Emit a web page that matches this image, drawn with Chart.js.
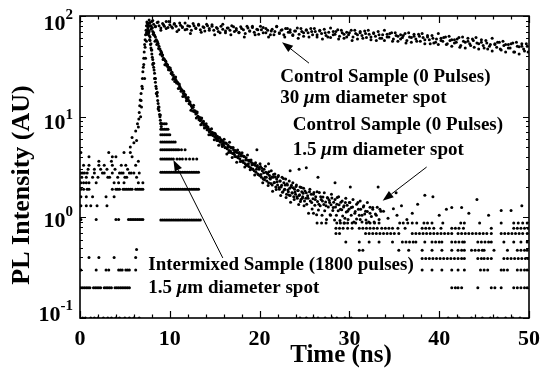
<!DOCTYPE html>
<html><head><meta charset="utf-8">
<script src="https://cdn.jsdelivr.net/npm/chart.js@4/dist/chart.umd.min.js"></script>
<style>html,body{margin:0;padding:0;background:#fff}canvas{display:block}</style>
</head><body>
<canvas id="c" width="548" height="381"></canvas>
<script>
// ---------- data (time in ns, PL intensity in AU) ----------
const xTickValues = [0, 10, 20, 30, 40, 50];
const yTickValues = [0.1, 1, 10, 100];
const yTickExponents = ['-1', '0', '1', '2'];

// Control sample, 30 um spot
const controlWideSpot = [[7.2,24],[7.3,38],[7.4,56],[7.5,70],[7.6,84],[7.7,91],[7.8,86],[7.9,80],[8.0,88],[8.2,83],[8.4,78],[8.6,86],[8.8,80],[9.0,76],[9.2,84],[9.4,79],[9.6,88],[9.8,77],[10.0,82],[10.3,76],[10.5,84],[10.7,79],[11.0,73],[11.2,81],[11.4,77],[11.7,85],[11.9,74],[12.2,79],[12.4,72],[12.7,80],[12.9,76],[13.2,83],[13.4,73],[13.7,78],[13.9,71],[14.2,80],[14.4,75],[14.7,82],[14.9,72],[15.2,77],[15.4,70],[15.7,79],[15.9,74],[16.2,68],[16.4,76],[16.7,72],[16.9,80],[17.2,70],[17.4,75],[17.7,69],[17.9,78],[18.2,73],[18.4,67],[18.7,76],[18.9,71],[19.2,79],[19.4,69],[19.7,74],[19.9,66],[20.2,73],[20.4,77],[20.7,68],[20.9,72],[21.2,65],[21.4,74],[21.7,70],[21.9,78],[22.2,67],[22.4,72],[22.7,65],[22.9,75],[23.2,69],[23.4,73],[23.7,64],[23.9,71],[24.2,76],[24.4,66],[24.7,70],[24.9,63],[25.2,72],[25.4,68],[25.7,75],[25.9,65],[26.2,70],[26.4,62],[26.7,71],[26.9,67],[27.2,74],[27.4,64],[27.7,69],[27.9,61],[28.2,70],[28.4,66],[28.7,73],[28.9,63],[29.2,68],[29.4,60],[29.7,69],[29.9,65],[30.2,72],[30.4,62],[30.7,67],[30.9,59],[31.2,68],[31.4,64],[31.7,71],[31.9,61],[32.2,66],[32.4,58],[32.7,67],[32.9,63],[33.2,70],[33.4,60],[33.7,65],[33.9,57],[34.2,66],[34.4,62],[34.7,68],[34.9,59],[35.2,64],[35.4,56],[35.7,65],[35.9,61],[36.2,67],[36.4,57],[36.7,62],[36.9,55],[37.2,63],[37.4,59],[37.7,66],[37.9,56],[38.2,61],[38.4,53],[38.7,62],[38.9,58],[39.2,64],[39.4,54],[39.7,59],[39.9,52],[40.2,60],[40.4,56],[40.7,62],[40.9,53],[41.2,57],[41.4,50],[41.7,58],[41.9,55],[42.2,61],[42.4,51],[42.7,56],[42.9,48],[43.2,56],[43.4,53],[43.7,59],[43.9,49],[44.2,54],[44.4,47],[44.7,55],[44.9,51],[45.2,57],[45.4,47],[45.7,52],[45.9,45],[46.2,53],[46.4,49],[46.7,55],[46.9,46],[47.2,51],[47.4,44],[47.7,52],[47.9,48],[48.2,54],[48.4,44],[48.7,50],[48.9,42],[49.2,50],[49.4,47],[49.7,53],[49.9,44]];
const controlWideSpotMore = [[8.1,90],[8.4,79],[8.7,87],[9.0,72],[9.3,82],[9.6,75],[9.9,88],[10.2,78],[10.5,83],[10.8,70],[11.1,85],[11.4,78],[11.7,73],[12.0,80],[12.3,67],[12.6,84],[12.9,75],[13.2,81],[13.5,69],[13.8,77],[14.1,83],[14.4,72],[14.7,79],[15.0,65],[15.3,75],[15.6,68],[15.9,83],[16.2,71],[16.5,76],[16.8,65],[17.1,78],[17.4,72],[17.7,68],[18.0,75],[18.3,62],[18.6,79],[18.9,71],[19.2,77],[19.5,65],[19.8,73],[20.1,79],[20.4,68],[20.7,75],[21.0,62],[21.3,71],[21.6,65],[21.9,79],[22.2,68],[22.5,73],[22.8,62],[23.1,75],[23.4,69],[23.7,65],[24.0,71],[24.3,60],[24.6,75],[24.9,68],[25.2,73],[25.5,62],[25.8,70],[26.1,75],[26.4,65],[26.7,72],[27.0,59],[27.3,68],[27.6,62],[27.9,76],[28.2,65],[28.5,70],[28.8,59],[29.1,72],[29.4,66],[29.7,62],[30.0,68],[30.3,57],[30.6,72],[30.9,65],[31.2,70],[31.5,60],[31.8,67],[32.1,72],[32.4,62],[32.7,68],[33.0,57],[33.3,65],[33.6,60],[33.9,72],[34.2,62],[34.5,67],[34.8,56],[35.1,68],[35.4,63],[35.7,59],[36.0,64],[36.3,54],[36.6,68],[36.9,61],[37.2,66],[37.5,56],[37.8,63],[38.1,67],[38.4,58],[38.7,64],[39.0,53],[39.3,60],[39.6,55],[39.9,67],[40.2,57],[40.5,61],[40.8,52],[41.1,63],[41.4,58],[41.7,54],[42.0,59],[42.3,49],[42.6,62],[42.9,55],[43.2,60],[43.5,51],[43.8,57],[44.1,61],[44.4,53],[44.7,58],[45.0,48],[45.3,54],[45.6,50],[45.9,60],[46.2,52],[46.5,55],[46.8,47],[47.1,56],[47.4,52],[47.7,48],[48.0,53],[48.3,44],[48.6,55],[48.9,49.5],[49.2,53],[49.5,45],[49.8,50]];

// Control sample, 1.5 um spot: decay
const controlSmallSpot = [[7.5,66],[7.6,78],[7.7,85],[7.8,80],[7.9,74],[8.0,77],[8.1,70],[8.2,68],[8.3,64],[8.4,62],[8.5,58],[8.6,56],[8.7,53],[8.8,50],[8.9,47],[9.0,45],[9.1,43],[9.2,41],[9.3,38],[9.4,37],[9.5,36],[9.6,34],[9.7,33],[9.8,31],[9.9,31],[10.0,29],[10.1,29],[10.2,27],[10.3,26],[10.4,26],[10.5,24],[10.6,24],[10.7,23],[10.8,22],[10.9,21.5],[11.0,21],[11.1,20],[11.2,19],[11.3,18.5],[11.4,18],[11.5,17],[11.6,17],[11.7,16],[11.8,15.5],[11.9,15],[12.0,14.5],[12.1,14.5],[12.2,13.5],[12.3,13.2],[12.4,12.8],[12.5,12.2],[12.6,12.4],[12.7,11.5],[12.8,11.2],[12.9,10.6],[13.0,10.8],[13.1,10.0],[13.2,9.8],[13.3,9.6],[13.4,9.1],[13.5,9.3],[13.6,8.6],[13.7,8.8],[13.8,8.2],[13.9,8.4],[14.0,7.8],[14.1,8.1],[14.2,7.4],[14.3,7.6],[14.4,7.1],[14.5,7.4],[14.6,6.8],[14.7,7.0],[14.8,6.5],[14.9,6.9],[15.0,6.3],[15.1,6.6],[15.2,6.0],[15.3,6.4],[15.4,5.8],[15.5,6.1],[15.6,5.6],[15.7,5.9],[15.8,5.3],[15.9,5.7],[16.0,5.2],[16.1,5.5],[16.2,4.9],[16.3,5.4],[16.4,4.8],[16.5,5.2],[16.6,4.6],[16.7,5.0],[16.8,4.4],[16.9,4.9],[17.0,4.3],[17.1,4.7],[17.2,4.2],[17.3,4.6],[17.4,4.0],[17.5,4.4],[17.6,3.9],[17.7,4.3],[17.8,3.8],[17.9,4.2],[18.0,3.6],[18.1,4.1],[18.2,3.5],[18.3,4.0],[18.4,3.4],[18.5,3.9],[18.6,3.3],[18.7,3.7],[18.8,3.2],[18.9,3.6],[19.0,3.1],[19.1,3.5],[19.2,3.0],[19.3,3.4],[19.4,2.9],[19.5,3.3],[19.6,2.8],[19.7,3.2],[19.8,2.7],[19.9,3.1],[20.0,2.6],[20.1,3.2],[20.2,2.5],[20.3,2.9],[20.4,2.4],[20.5,3.0],[20.6,2.5],[20.7,2.8],[20.8,2.3],[20.9,2.7],[21.0,2.2],[21.1,2.6],[21.2,2.4],[21.3,2.9],[21.4,2.1],[21.5,2.5],[21.6,2.2],[21.7,2.7],[21.8,2.0],[21.9,2.4],[22.0,2.1],[22.1,2.6],[22.2,1.9],[22.3,2.3],[22.4,2.0],[22.5,2.5],[22.6,1.8],[22.7,2.2],[22.8,1.9],[22.9,2.4],[23.0,1.7],[23.1,2.1],[23.2,1.8],[23.3,2.3],[23.4,1.65],[23.5,2.0],[23.6,1.75],[23.7,2.2],[23.8,1.6],[23.9,1.9],[24.0,1.7],[24.1,2.1],[24.2,1.55],[24.3,1.85],[24.4,1.65],[24.5,2.0],[24.6,1.5],[24.7,1.8],[24.8,1.6],[24.9,1.95],[25.0,1.45],[25.2,1.75],[25.4,1.55],[25.6,1.9],[25.8,1.4],[26.0,1.7],[26.2,1.5],[26.4,1.8],[26.6,1.35],[26.8,1.6],[27.0,1.45],[27.2,1.75],[27.4,1.3],[27.6,1.55],[27.8,1.4],[28.0,1.7],[28.2,1.25],[28.4,1.5],[28.6,1.35],[28.8,1.6],[29.0,1.2],[29.2,1.45],[29.4,1.3],[29.6,1.55],[29.8,1.15],[30.0,1.4],[30.2,1.25],[30.4,1.5],[30.6,1.1],[30.8,1.35],[31.0,1.2],[31.2,1.45],[31.4,1.05],[31.6,1.3],[31.8,1.15],[32.0,1.4],[32.3,1.1],[32.6,1.25],[33.0,1.05],[33.4,1.2],
[23.4,2.9],[24.4,3.0],[25.2,3.1],[26.5,2.5],[28.4,2.2],[30.1,2.0],[33.2,2.0],[35.2,1.75],[31.2,0.95],[29.5,0.98],[27.9,1.05],[26.0,1.1],[19.7,4.7],[21.0,3.4],
[33.8,1.15],[34.3,0.98],[34.9,1.22],[35.3,1.05],[35.8,1.3],[36.4,0.95],[37.0,1.1],[37.6,1.35],[38.4,1.66],[39.3,1.6],[40.0,1.05],[40.8,1.2],[41.4,1.25],[42.5,1.25],[43.3,1.1],[44.2,1.5],[45.5,1.05],[46.9,1.17],[48.0,1.17],[49.2,1.3]];
const controlSmallSpotMore = [[8.05,76],[8.15,66],[8.25,65],[8.35,56],[8.45,57],[8.55,52],[8.65,54],[8.75,47.5],[8.85,47],[8.95,41.6],[9.05,43.8],[9.15,40],[9.25,36.9],[9.35,37.2],[9.45,32.7],[9.55,35.6],[9.65,32.3],[9.75,32.6],[9.85,29.2],[9.95,29.9],[10.05,30.5],[10.15,26.8],[10.25,27.6],[10.35,23.5],[10.45,24.7],[10.55,22.4],[10.65,24.8],[10.75,21.6],[10.85,22],[10.95,19.1],[11.05,21.1],[11.15,19.3],[11.25,17.9],[11.35,18.4],[11.45,15.9],[11.55,17.9],[11.65,16.1],[11.75,16.5],[11.85,14.4],[11.95,14.9],[12.05,15.5],[12.15,13.4],[12.25,14],[12.35,11.6],[12.45,12.6],[12.55,11.4],[12.65,13],[12.75,11.2],[12.85,11.4],[12.95,9.7],[13.05,11.1],[13.15,10.1],[13.25,9.3],[13.35,9.8],[13.45,8.3],[13.55,9.7],[13.65,8.7],[13.75,9.0],[13.85,7.7],[13.95,8.3],
[14.05,8.5],[14.15,7.4],[14.25,7.9],[14.35,6.6],[14.45,7.25],[14.55,6.6],[14.65,7.6],[14.75,6.6],[14.85,6.85],[14.95,5.9],[15.05,6.8],[15.15,6.2],[15.25,5.8],[15.35,6.15],[15.45,5.2],[15.55,6.2],[15.65,5.6],[15.75,5.87],[15.85,5.06],[15.95,5.45],[16.05,5.97],[16.15,4.94],[16.25,5.47],[16.35,4.26],[16.45,5.0],[16.55,4.41],[16.65,5.56],[16.75,4.56],[16.85,4.9],[16.95,3.94],[17.05,4.94],[17.15,4.41],[17.25,4.02],[17.35,4.48],[17.45,3.53],[17.55,4.67],[17.65,4.05],[17.75,4.41],[17.85,3.58],[17.95,4.06],[18.05,4.39],[18.15,3.65],[18.25,4.05],[18.35,3.16],[18.45,3.72],[18.55,3.29],[18.65,4.16],[18.75,3.41],[18.85,3.68],[18.95,2.97],[19.05,3.72],[19.15,3.32],[19.25,3.02],[19.35,3.36],[19.45,2.64],[19.55,3.48],[19.65,3.01],[19.75,3.28],[19.85,2.66],[19.95,3.01],
[20.05,3.4],[20.15,2.67],[20.25,3.08],[20.35,2.21],[20.45,2.77],[20.55,2.36],[20.65,3.22],[20.75,2.5],[20.85,2.76],[20.95,2.07],[21.05,2.83],[21.15,2.44],[21.25,2.17],[21.35,2.51],[21.45,1.82],[21.55,2.67],[21.65,2.22],[21.75,2.51],[21.85,1.89],[21.95,2.26],[22.05,2.53],[22.15,1.98],[22.25,2.3],[22.35,1.65],[22.45,2.08],[22.55,1.77],[22.65,2.43],[22.75,1.88],[22.85,2.09],[22.95,1.57],[23.05,2.15],[23.15,1.87],[23.25,1.67],[23.35,1.94],[23.45,1.41],[23.55,2.08],[23.65,1.74],[23.75,1.97],[23.85,1.5],[23.95,1.79],
[24.05,2.02],[24.15,1.6],[24.25,1.85],[24.35,1.34],[24.45,1.68],[24.55,1.44],[24.65,1.98],[24.75,1.55],[24.85,1.73],[24.95,1.3],[25.05,1.83],[25.15,1.55],[25.25,1.35],[25.35,1.64],[25.45,1.1],[25.55,1.8],[25.65,1.45],[25.75,1.7],[25.85,1.21],[25.95,1.53],[26.05,1.76],[26.15,1.32],[26.25,1.6],[26.35,1.06],[26.45,1.44],[26.55,1.18],[26.65,1.76],[26.75,1.3],[26.85,1.5],[26.95,1.05],[27.05,1.59],[27.15,1.34],[27.25,1.16],[27.35,1.42],[27.45,0.95],[27.55,1.57],[27.65,1.27],[27.75,1.48],[27.85,1.06],[27.95,1.33],[28.05,1.56],[28.15,1.17],[28.25,1.41],[28.35,0.94],[28.45,1.27],[28.55,1.05],[28.65,1.57],[28.75,1.16],[28.85,1.33],[28.95,0.93],[29.05,1.41],[29.15,1.19],[29.25,1.03],[29.35,1.27],[29.45,0.88],[29.55,1.4],[29.65,1.13],[29.75,1.32],[29.85,0.95],[29.95,1.2],
[30.05,1.4],[30.2,1.05],[30.35,1.27],[30.5,0.9],[30.65,1.14],[30.8,0.96],[30.95,1.4],[31.1,1.05],[31.25,1.2],[31.4,0.9],[31.55,1.27],[31.7,1.08],[31.85,0.94],[32.0,1.14],[32.15,0.9],[32.3,1.26],[32.45,1.02],[32.6,1.2],[32.75,0.9],[32.9,1.08],[33.1,1.26],[33.3,0.95],[33.5,1.15]];

// Control sample, 1.5 um spot: quantized late-time levels
const controlTailLevels = [0.88, 0.78, 0.69, 0.57, 0.47, 0.39, 0.30, 0.20, 0.1];
const controlTailTimes = [
 [26.4,26.9,27.4,28.6,29.0,29.4,29.8,30.3,30.7,31.9,32.3,32.8,33.3,35.6,36.0,36.5,37.0,37.5,38.3,38.7,39.2,40.4,42.4,42.8,44.5,46.9,48.3,48.8,49.3,49.8],
 [28.5,28.9,29.3,29.8,30.3,31.1,31.5,31.9,32.3,32.7,33.1,33.6,34.0,34.4,34.8,35.4,36.2,38.1,38.5,38.9,39.4,40.2,41.4,41.8,42.2,42.7,45.8,48.3,48.7,49.1,49.5,49.9],
 [28.5,28.9,31.8,32.2,32.6,33.0,33.4,33.8,34.2,34.6,35.0,35.5,37.0,37.4,37.8,38.2,38.6,39.0,39.4,39.8,40.2,40.6,41.0,41.4,42.1,42.5,42.9,43.3,43.7,44.1,44.5,44.9,45.3,45.8,46.9,47.3,47.7,48.1,48.5,48.9,49.3,49.8],
 [29.6,31.1,32.2,33.3,34.8,35.9,36.3,36.7,37.1,37.4,38.4,39.2,39.6,40.0,40.3,41.4,41.8,42.2,42.6,42.8,44.3,44.7,45.1,45.5,45.8,47.2,48.3,49.1,49.8],
 [31.1,31.5,35.5,36.6,38.1,39.2,40.3,41.4,42.1,42.5,42.8,43.6,44.0,44.4,44.8,45.0,46.1,47.6,48.7,49.1,49.5,49.8],
 [38.1,38.5,38.9,39.3,39.7,40.1,40.5,40.9,41.3,41.7,42.1,42.5,42.8,44.3,44.7,45.0,45.4,45.8,47.2,47.6,48.0,48.4,48.8,49.2,49.6,49.9],
 [38.1,39.2,40.3,41.4,42.1,42.8,44.6,45.0,45.4,46.9,47.2,47.6,48.7,49.1,49.5,49.8],
 [41.4,41.8,42.1,42.5,44.3,45.8,46.2,46.9,48.3,48.7,49.1,49.5,49.8],
 [24.5,25.2,26.0,26.5,27.3,28.1,28.6,29.5,30.2,41.0,42.2,43.6,44.8,45.7,46.5,47.4,48.2,49.0]
];

// Intermixed sample (1800 pulses), 1.5 um spot: rise, peak and fast decay
const intermixedPeak = [[5.6,5.0],[5.8,6.2],[6.0,5.5],[6.2,7.2],[6.3,5.8],[6.4,8.5],[6.5,7.9],[6.6,11],[6.7,14.6],[6.75,10],[6.8,17],[6.85,12.5],[6.9,20],[6.95,24],[7.0,28],[7.05,31],[7.1,38],[7.15,44],[7.2,52],[7.25,58],[7.3,65],[7.35,72],[7.4,80],[7.45,87],[7.5,84],[7.55,76],[7.6,72],[7.65,68],[7.7,64],[7.75,58],[7.8,57],[7.85,52],[7.9,48],[7.95,46],[8.0,42],[8.05,39],[8.1,37],[8.15,34],[8.2,31],[8.25,29],[8.3,27],[8.35,24],[8.4,22],[8.45,20],[8.5,19],[8.55,17],[8.6,16],[8.65,14.5],[8.7,13.5],[8.75,12.5],[8.8,11.5],[8.85,10.5],[8.9,10],[8.95,9.2],[9.0,8.6],[9.05,8.0],[7.7,70],[7.9,53],[8.1,33],[8.3,24],[8.5,17],[8.7,12],
[6.55,9.5],[6.65,12.8],[6.8,14.5],[6.95,19],[7.1,33],[7.25,49],[7.4,68],[7.6,80],[7.8,62],[8.0,46],[8.2,34],[8.4,24],[8.6,17.5],[8.8,12.5],[8.95,10.4]];

// Intermixed sample: quantized levels right after the pulse
const intermixedTailLevels = [8.5, 7.5, 6.6, 5.6, 4.7, 3.8, 2.8, 1.9, 0.94];
const intermixedTailTimes = [
 [9.0,9.2,9.4,9.6],
 [9.0,9.2,9.4,9.6,9.8],
 [9.0,9.2,9.4,9.6,9.8,10.0],
 [9.0,9.2,9.4,9.6,9.8,10.0,10.2,10.4,10.6],
 [9.0,9.2,9.4,9.6,9.8,10.0,10.2,10.4,10.6,10.8,11.0,11.3,11.7],
 [9.0,9.2,9.4,9.6,9.8,10.0,10.2,10.4,10.8,11.1,11.4,11.8,12.2,12.6,13.0],
 [9.0,9.2,9.4,9.6,9.8,10.0,10.2,10.4,10.6,10.8,11.0,11.2,11.4,11.6,11.8,12.0,12.2,12.4,12.6,12.8,13.0,13.2],
 [9.0,9.2,9.4,9.6,9.8,10.0,10.2,10.4,10.6,10.8,11.0,11.2,11.4,11.6,11.8,12.0,12.2,12.4,12.6,12.8,13.0,13.2],
 [9.0,9.2,9.4,9.6,9.8,10.0,10.2,10.4,10.6,10.8,11.0,11.2,11.4,11.6,11.8,12.0,12.2,12.4,12.6,12.8,13.0,13.2,13.4]
];

// Background before the pulse (quantized levels)
const baselineLevels = [4.4, 4.0, 3.6, 3.3, 3.0, 2.75, 2.5, 2.2, 1.9, 1.6, 1.3, 0.95, 0.48, 0.4, 0.3, 0.2, 0.1];
const baselineTimes = [
 [0.1,3.2,4.9,5.6],
 [1.0,3.6,4.0,5.8],
 [2.1,3.5,6.5],
 [0.4,1.0,2.1,2.7,3.6,4.6,5.1,6.2],
 [0.9,1.6,2.3,3.0,3.9,5.3],
 [0.1,0.3,0.5,0.8,1.6,2.5,2.7,3.6,4.4,4.6,4.8,5.5,5.7,6.0,6.6],
 [0.2,0.7,1.4,2.0,3.1,3.3,4.2,5.0,5.2,6.3],
 [0.1,0.4,0.7,1.0,1.8,3.8,4.3,4.9,6.5,7.0],
 [0.1,0.4,0.8,1.0,3.6,4.0,4.2,4.4,4.8,5.0,5.2,5.4,5.6,5.8,6.2,6.4,6.6,6.8,7.0],
 [0.1,0.7,1.4,2.9,3.8],
 [0.1,0.7,1.2,1.9,3.0],
 [0.1,1.8,4.0,4.3,5.4,5.6,5.8,6.0,6.2,6.4,6.6,6.8,7.0],
 [6.3],
 [1.0,2.1,3.8,6.2],
 [0.1,1.8,2.9,3.2,4.3,4.5,4.7,5.1,5.3,5.5,6.2],
 [0.1,0.3,0.5,0.7,0.9,1.1,1.5,1.7,1.9,2.1,2.3,2.7,2.9,3.1,3.3,3.5,3.9,4.1,4.3,4.5,4.7,4.9,5.1,5.3,5.5],
 [0.3,0.6,1.2,1.6,2.0,2.6,3.1,3.5,4.0,4.4,5.0,5.5,6.0,6.6]
];

// Annotation texts (positions given in data units)
const noteLines = [
 {text: 'Control Sample (0 Pulses)', t: 22.3, v: 24.8},
 {text: '30 μm diameter spot', t: 22.3, v: 15.3},
 {text: 'Control Sample (0 Pulses)', t: 23.7, v: 8.27},
 {text: '1.5 μm diameter spot', t: 23.7, v: 4.67},
 {text: 'Intermixed Sample (1800 pulses)', t: 7.6, v: 0.337},
 {text: '1.5 μm diameter spot', t: 7.6, v: 0.2}
];
const noteArrows = [
 {from: [25.5, 34], to: [22.5, 55]},
 {from: [38.6, 3.16], to: [33.7, 1.46]},
 {from: [15.9, 0.395], to: [10.4, 3.72]}
];

// ---------- build datasets ----------
const pairs = a => a.map(([x, y]) => ({x, y}));
const rows = (levels, times) => levels.flatMap((lv, i) => times[i].map(t => ({x: t, y: lv})));

const SERIF = '"Liberation Serif", "Times New Roman", serif';

const whiteBg = {
  id: 'whiteBg',
  beforeDraw(chart) {
    const c = chart.ctx; c.save(); c.fillStyle = '#fff';
    c.fillRect(0, 0, chart.width, chart.height); c.restore();
  }
};

function drawRich(ctx, text, x, y, size) {
  const parts = text.split('μ');
  parts.forEach((p, i) => {
    ctx.font = 'bold ' + size + 'px ' + SERIF;
    ctx.fillText(p, x, y); x += ctx.measureText(p).width;
    if (i < parts.length - 1) {
      ctx.font = 'italic bold ' + size + 'px ' + SERIF;
      ctx.fillText('μ', x, y); x += ctx.measureText('μ').width;
    }
  });
}

const frameAndNotes = {
  id: 'frameAndNotes',
  afterDraw(chart) {
    const {ctx, chartArea: a, scales: {x, y}} = chart;
    ctx.save();
    ctx.strokeStyle = '#000'; ctx.fillStyle = '#000';
    ctx.lineWidth = 1.6;
    ctx.strokeRect(a.left, a.top, a.right - a.left, a.bottom - a.top);
    ctx.lineWidth = 1.2;
    ctx.beginPath();
    for (let t = x.min; t <= x.max + 1e-9; t += 2) {
      const px = Math.round(x.getPixelForValue(t)) + 0.5;
      const len = (Math.abs(t % 10) < 1e-9) ? 7 : 3.5;
      ctx.moveTo(px, a.bottom); ctx.lineTo(px, a.bottom - len);
      ctx.moveTo(px, a.top); ctx.lineTo(px, a.top + len);
    }
    for (let d = -1; d < 2; d++) {
      for (let m = 1; m <= 10; m++) {
        const v = m * Math.pow(10, d);
        const py = Math.round(y.getPixelForValue(v)) + 0.5;
        const len = (m === 1 || m === 10) ? 6 : 3;
        ctx.moveTo(a.left, py); ctx.lineTo(a.left + len, py);
        ctx.moveTo(a.right, py); ctx.lineTo(a.right - len, py);
      }
    }
    ctx.stroke();

    // y tick labels 10^n
    const shifts = [-3, 4, 7, 8];
    ctx.textBaseline = 'middle'; ctx.textAlign = 'left';
    yTickValues.forEach((v, i) => {
      const py = y.getPixelForValue(v) + shifts[i];
      ctx.font = 'bold 22px ' + SERIF;
      const bw = ctx.measureText('10').width;
      ctx.font = 'bold 15px ' + SERIF;
      const ew = ctx.measureText(yTickExponents[i]).width;
      const left = 73 - bw - ew;
      ctx.font = 'bold 22px ' + SERIF;
      ctx.fillText('10', left, py);
      ctx.font = 'bold 15px ' + SERIF;
      ctx.fillText(yTickExponents[i], left + bw, py - 9);
    });

    // axis titles
    ctx.font = 'bold 26px ' + SERIF;
    ctx.textAlign = 'center'; ctx.textBaseline = 'middle';
    ctx.save(); ctx.translate(22, 185); ctx.rotate(-Math.PI / 2);
    ctx.fillText('PL Intensity (AU)', 0, 0); ctx.restore();
    ctx.font = 'bold 25px ' + SERIF;
    ctx.fillText('Time (ns)', 341, 356);

    // notes
    ctx.textAlign = 'left'; ctx.textBaseline = 'middle';
    noteLines.forEach(n => drawRich(ctx, n.text, x.getPixelForValue(n.t), y.getPixelForValue(n.v), 19));

    // arrows
    ctx.lineWidth = 1;
    noteArrows.forEach(ar => {
      const x0 = x.getPixelForValue(ar.from[0]), y0 = y.getPixelForValue(ar.from[1]);
      const x1 = x.getPixelForValue(ar.to[0]), y1 = y.getPixelForValue(ar.to[1]);
      const ang = Math.atan2(y1 - y0, x1 - x0);
      const hl = 11, hw = 4;
      const bx = x1 - hl * Math.cos(ang), by = y1 - hl * Math.sin(ang);
      ctx.beginPath(); ctx.moveTo(x0, y0); ctx.lineTo(bx, by); ctx.stroke();
      ctx.beginPath(); ctx.moveTo(x1, y1);
      ctx.lineTo(bx + hw * Math.sin(ang), by - hw * Math.cos(ang));
      ctx.lineTo(bx - hw * Math.sin(ang), by + hw * Math.cos(ang));
      ctx.closePath(); ctx.fill();
    });
    ctx.restore();
  }
};

const dotStyle = {pointRadius: 1.5, pointHoverRadius: 1.5, pointBackgroundColor: '#000', pointBorderWidth: 0, showLine: false};

new Chart(document.getElementById('c'), {
  type: 'scatter',
  data: {
    datasets: [
      Object.assign({label: 'Control Sample (0 Pulses), 30 μm diameter spot',
        data: pairs(controlWideSpot).concat(pairs(controlWideSpotMore))}, dotStyle),
      Object.assign({label: 'Control Sample (0 Pulses), 1.5 μm diameter spot',
        data: pairs(controlSmallSpot).concat(pairs(controlSmallSpotMore), rows(controlTailLevels, controlTailTimes))}, dotStyle),
      Object.assign({label: 'Intermixed Sample (1800 pulses), 1.5 μm diameter spot',
        data: pairs(intermixedPeak).concat(rows(intermixedTailLevels, intermixedTailTimes), rows(baselineLevels, baselineTimes))}, dotStyle)
    ]
  },
  options: {
    responsive: false, animation: false, devicePixelRatio: 1,
    layout: {padding: {left: 0, top: 16, right: 13, bottom: 0}},
    plugins: {legend: {display: false}, tooltip: {enabled: false}},
    scales: {
      x: {
        type: 'linear', min: 0, max: 50,
        grid: {display: false, drawTicks: false}, border: {display: false},
        afterBuildTicks: s => { s.ticks = xTickValues.map(v => ({value: v})); },
        ticks: {color: '#000', padding: 8, maxRotation: 0, autoSkip: false,
                font: {family: SERIF, size: 22, weight: 'bold'}},
        afterFit: s => { s.height = 63; }
      },
      y: {
        type: 'logarithmic', min: 0.1, max: 100,
        grid: {display: false, drawTicks: false}, border: {display: false},
        ticks: {display: false},
        afterFit: s => { s.width = 80; }
      }
    }
  },
  plugins: [whiteBg, frameAndNotes]
});
</script></body></html>
